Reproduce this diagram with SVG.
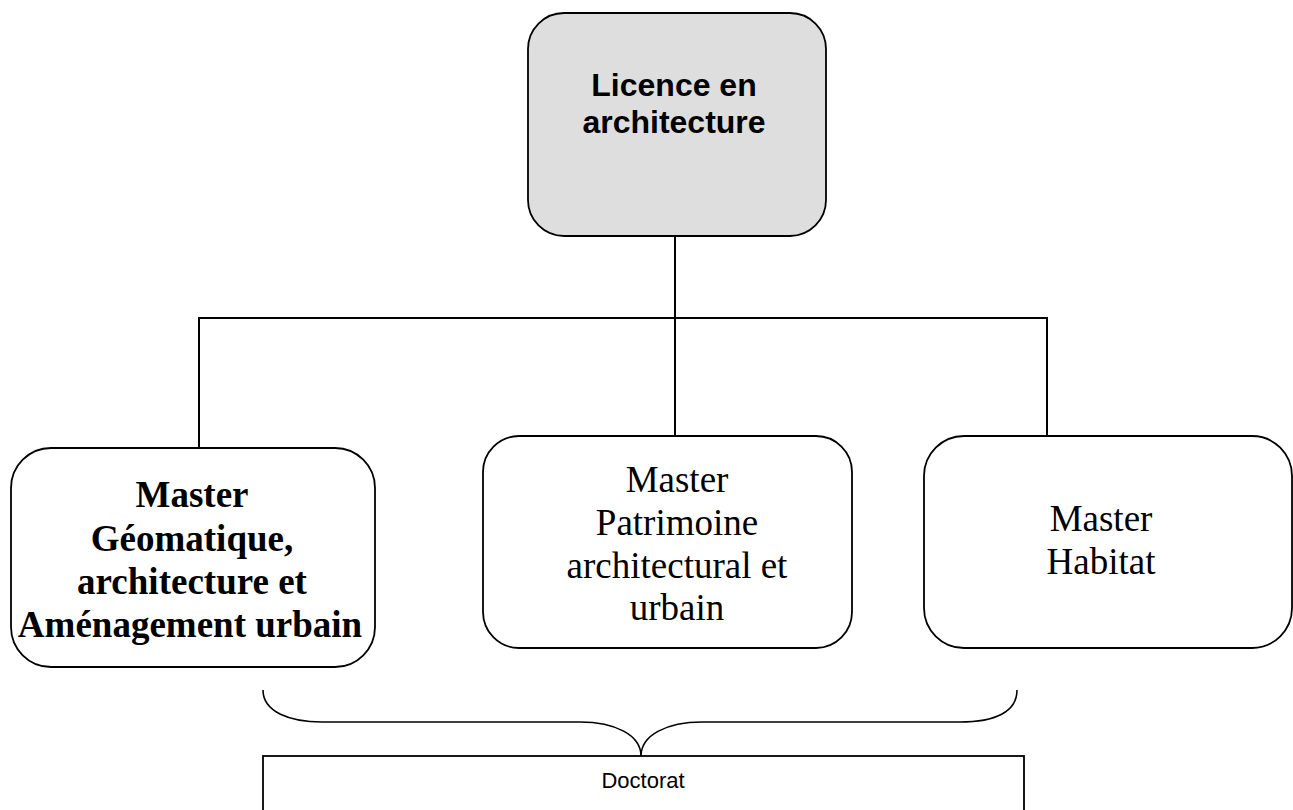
<svg xmlns="http://www.w3.org/2000/svg" width="1293" height="810" viewBox="0 0 1293 810">
<style>
.box{fill:#ffffff;stroke:#000000;stroke-width:1.8}
.lic{fill:#dedede;stroke:#000000;stroke-width:1.8}
.con{fill:none;stroke:#000000;stroke-width:2}
.brace{fill:none;stroke:#000000;stroke-width:1.6}
.arialb{font-family:"Liberation Sans",Arial,sans-serif;font-weight:bold;font-size:32px;fill:#000}
.timesb{font-family:"Liberation Serif","Times New Roman",serif;font-weight:bold;font-size:37px;fill:#000}
.times{font-family:"Liberation Serif","Times New Roman",serif;font-size:37px;fill:#000}
.arial{font-family:"Liberation Sans",Arial,sans-serif;font-size:22px;fill:#000}
</style>
<rect width="1293" height="810" fill="#ffffff"/>
<g id="connectors">
<line class="con" x1="675" y1="236" x2="675" y2="318"/>
<polyline class="con" points="199,448 199,318 1047,318 1047,436"/>
<line class="con" x1="675" y1="318" x2="675" y2="436"/>
<path class="brace" d="M263,690 C263,712 290,722 322,722 L580,722 C615,722 641,735 641,756 C641,735 667,722 702,722 L960,722 C995,722 1017,712 1017,690"/>
</g>
<g id="licence">
<rect class="lic" x="528" y="13" width="298" height="223" rx="36" ry="36"/>
<text class="arialb" text-anchor="middle" x="674" y="96">Licence en</text>
<text class="arialb" text-anchor="middle" x="674" y="133">architecture</text>
</g>
<g id="master-geomatique">
<rect class="box" x="11" y="448" width="364" height="219" rx="40" ry="40"/>
<text class="timesb" text-anchor="middle" x="192" y="507">Master</text>
<text class="timesb" text-anchor="middle" x="192" y="551">Géomatique,</text>
<text class="timesb" text-anchor="middle" x="192" y="594">architecture et</text>
<text class="timesb" text-anchor="middle" x="190" y="637">Aménagement urbain</text>
</g>
<g id="master-patrimoine">
<rect class="box" x="483" y="436" width="369" height="212" rx="36" ry="36"/>
<text class="times" text-anchor="middle" x="677" y="492">Master</text>
<text class="times" text-anchor="middle" x="677" y="535">Patrimoine</text>
<text class="times" text-anchor="middle" x="677" y="578">architectural et</text>
<text class="times" text-anchor="middle" x="677" y="620">urbain</text>
</g>
<g id="master-habitat">
<rect class="box" x="924" y="436" width="368" height="212" rx="40" ry="40"/>
<text class="times" text-anchor="middle" x="1101" y="531">Master</text>
<text class="times" text-anchor="middle" x="1101" y="574">Habitat</text>
</g>
<g id="doctorat">
<rect class="box" x="263" y="756" width="761" height="70"/>
<text class="arial" text-anchor="middle" x="643" y="788">Doctorat</text>
</g>
</svg>
